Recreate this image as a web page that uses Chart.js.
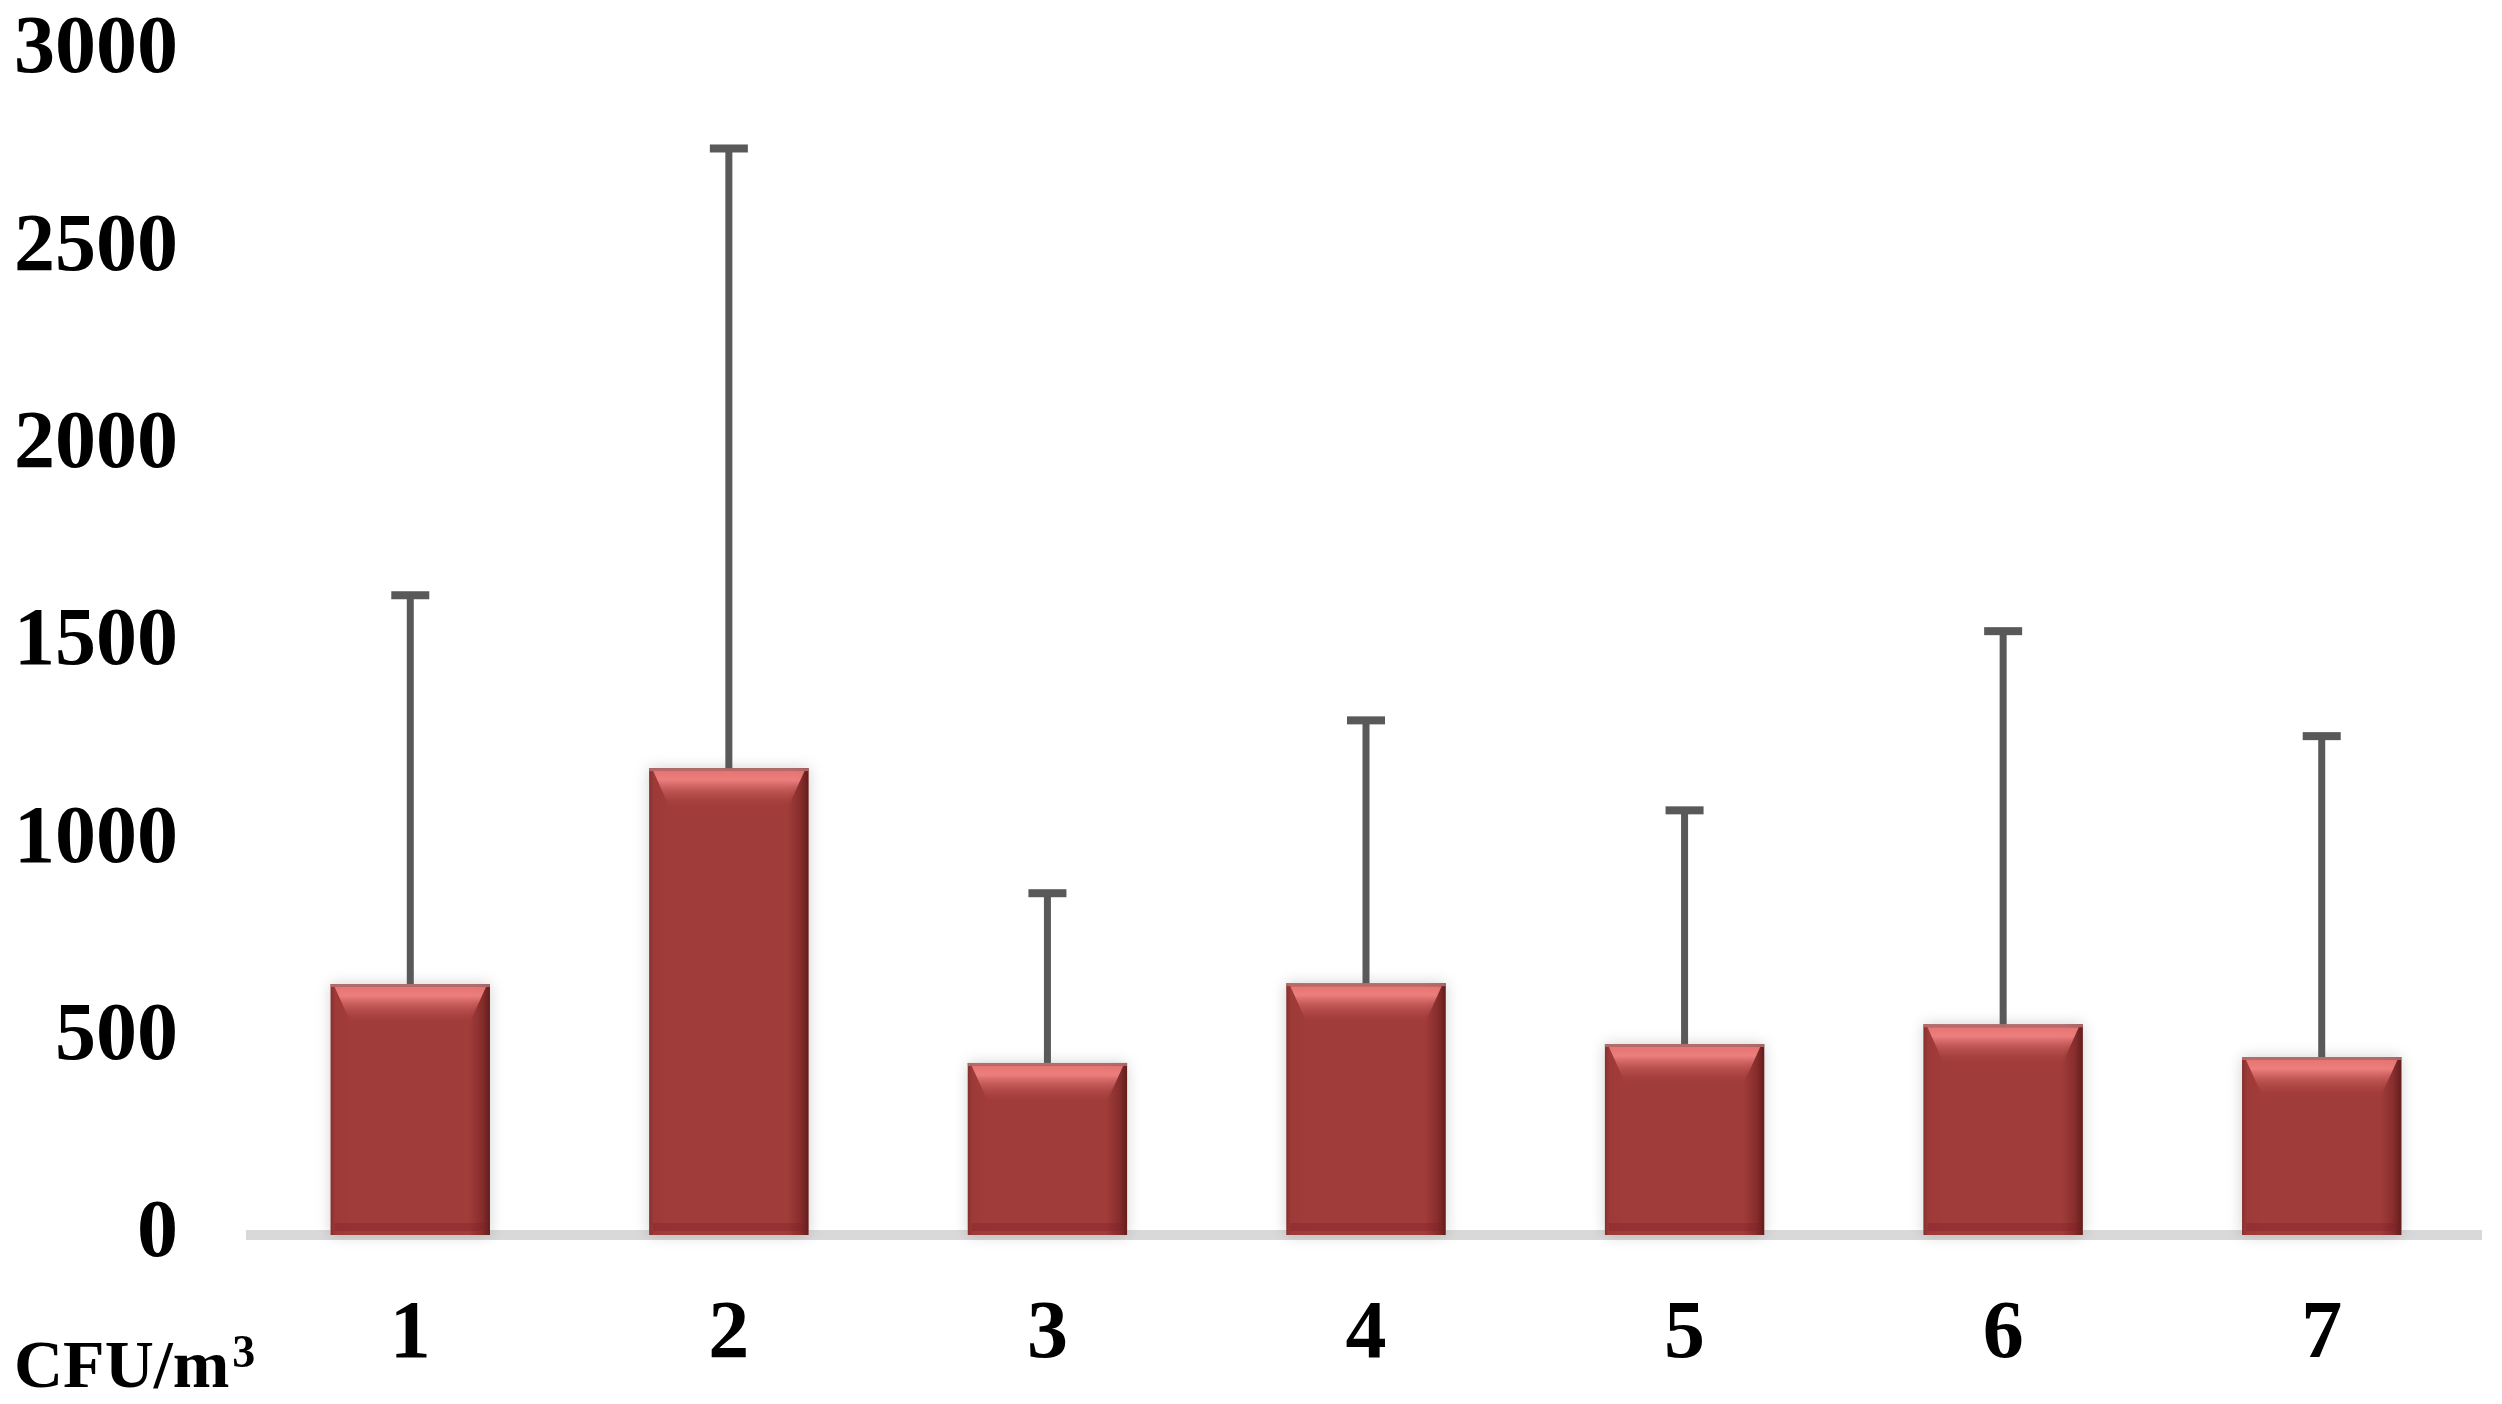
<!DOCTYPE html>
<html>
<head>
<meta charset="utf-8">
<script src="https://cdn.jsdelivr.net/npm/chart.js@4/dist/chart.umd.min.js"></script>
<style>
  html, body { margin: 0; padding: 0; background: #ffffff; }
  #wrap { width: 2502px; height: 1404px; position: relative; }
</style>
</head>
<body>
<div id="wrap"><canvas id="cfuChart"></canvas></div>
<script>
// data
const categories = ['1', '2', '3', '4', '5', '6', '7'];
const meanValues = [636, 1183, 436, 638, 484, 534, 451];
const sdPlus = [985, 1570, 430, 666, 592, 996, 813];
const yTicks = [0, 500, 1000, 1500, 2000, 2500, 3000];
const unitLabel = 'CFU/m';
const unitSup = '3';

const serif = "'Liberation Serif', 'Times New Roman', serif";
const barColor = '#a03c3a';

// soft halo behind bars
const barShadow = {
    id: 'barShadow',
    beforeDatasetsDraw(chart) {
        const ctx = chart.ctx;
        const meta = chart.getDatasetMeta(0);
        ctx.save();
        meta.data.forEach(bar => {
            const l = bar.x - bar.width / 2;
            ctx.shadowColor = 'rgba(0,0,0,0.18)';
            ctx.shadowBlur = 14;
            ctx.fillStyle = '#ffffff';
            ctx.fillRect(l, bar.y, bar.width, bar.base - bar.y);
        });
        ctx.restore();
    }
};

// bevel look on top of the plain bars
const barBevel = {
    id: 'barBevel',
    afterDatasetsDraw(chart) {
        const ctx = chart.ctx;
        const meta = chart.getDatasetMeta(0);
        ctx.save();
        meta.data.forEach(bar => {
            const w = bar.width;
            const l = bar.x - w / 2, r = bar.x + w / 2;
            const t = bar.y, b = bar.base;
            const side = w * 0.13;

            // left edge
            let g = ctx.createLinearGradient(l, 0, l + side, 0);
            g.addColorStop(0, 'rgba(105,35,33,0.55)');
            g.addColorStop(0.25, 'rgba(150,55,52,0.25)');
            g.addColorStop(1, 'rgba(150,55,52,0)');
            ctx.fillStyle = g;
            ctx.fillRect(l, t, side, b - t);

            // right edge
            g = ctx.createLinearGradient(r - side, 0, r, 0);
            g.addColorStop(0, 'rgba(90,20,20,0)');
            g.addColorStop(0.6, 'rgba(90,20,20,0.35)');
            g.addColorStop(1, 'rgba(70,15,15,0.7)');
            ctx.fillStyle = g;
            ctx.fillRect(r - side, t, side, b - t);

            // bottom band
            ctx.fillStyle = 'rgba(130,30,40,0.35)';
            ctx.fillRect(l + 4, b - 12, w - 8, 8);

            // top highlight trapezoid
            const band = 40;
            g = ctx.createLinearGradient(0, t, 0, t + band);
            g.addColorStop(0, 'rgba(235,120,118,0.9)');
            g.addColorStop(0.3, 'rgba(240,130,128,0.95)');
            g.addColorStop(1, 'rgba(170,62,60,0.0)');
            ctx.fillStyle = g;
            ctx.beginPath();
            ctx.moveTo(l + 4, t + 3);
            ctx.lineTo(r - 4, t + 3);
            ctx.lineTo(r - side, t + band);
            ctx.lineTo(l + side, t + band);
            ctx.closePath();
            ctx.fill();

            // thin rim on top
            ctx.fillStyle = 'rgba(185,120,120,0.8)';
            ctx.fillRect(l, t, w, 3);
        });
        ctx.restore();
    }
};

// upper error bars
const errorBars = {
    id: 'errorBars',
    afterDatasetsDraw(chart) {
        const ctx = chart.ctx;
        const yScale = chart.scales.y;
        const meta = chart.getDatasetMeta(0);
        ctx.save();
        ctx.fillStyle = '#595959';
        meta.data.forEach((bar, i) => {
            const yTop = yScale.getPixelForValue(meanValues[i] + sdPlus[i]);
            ctx.fillRect(bar.x - 3.5, yTop, 7, bar.y - yTop);
            ctx.fillRect(bar.x - 19, yTop - 4, 38, 8);
        });
        ctx.restore();
    }
};

// unit text under the y axis
const unitText = {
    id: 'unitText',
    afterDraw(chart) {
        const ctx = chart.ctx;
        const base = chart.chartArea.bottom + 152;
        ctx.save();
        ctx.fillStyle = '#000000';
        ctx.textBaseline = 'alphabetic';
        ctx.textAlign = 'left';
        ctx.font = 'bold 68px ' + serif;
        ctx.fillText(unitLabel, 14, base);
        const wMain = ctx.measureText(unitLabel).width;
        ctx.font = 'bold 46px ' + serif;
        ctx.fillText(unitSup, 14 + wMain + 3, base - 20);
        ctx.restore();
    }
};

function initChart() {
    const canvas = document.getElementById('cfuChart');
    const ctx = canvas.getContext('2d');
    new Chart(ctx, {
        type: 'bar',
        data: {
            labels: categories,
            datasets: [{
                data: meanValues,
                backgroundColor: barColor,
                borderWidth: 0,
                categoryPercentage: 1,
                barPercentage: 0.5
            }]
        },
        options: {
            responsive: true,
            maintainAspectRatio: false,
            animation: false,
            layout: { padding: { top: 51, right: 21, left: 0, bottom: 0 } },
            plugins: { legend: { display: false }, tooltip: { enabled: false } },
            scales: {
                x: {
                    grid: { display: false, drawTicks: false },
                    border: { display: true, color: '#d9d9d9', width: 10 },
                    ticks: {
                        color: '#000000',
                        padding: 52,
                        font: { family: serif, size: 82, weight: 'bold' }
                    },
                    afterFit: s => { s.height = 169; }
                },
                y: {
                    min: 0,
                    max: 3000,
                    grid: { display: false, drawTicks: false },
                    border: { display: false },
                    afterBuildTicks: s => { s.ticks = yTicks.map(v => ({ value: v })); },
                    ticks: {
                        color: '#000000',
                        padding: 73,
                        callback: v => String(v),
                        font: { family: serif, size: 82, weight: 'bold' }
                    },
                    // keep the label padding from pushing the plot down
                    afterFit: s => { s.width = 251; s.paddingTop = 0; s.paddingBottom = 0; }
                }
            }
        },
        plugins: [barShadow, barBevel, errorBars, unitText]
    });
}

window.onload = () => {
    initChart();
};
</script>
</body>
</html>
